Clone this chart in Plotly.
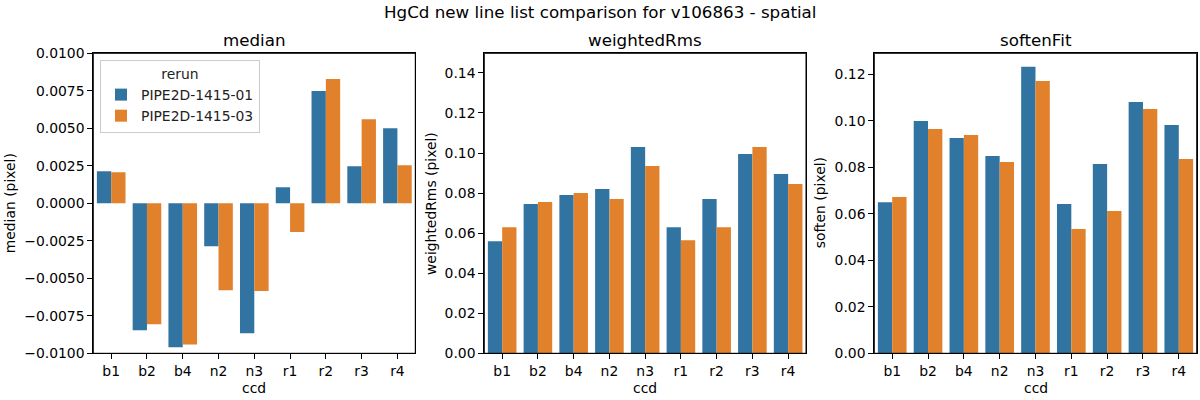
import plotly.graph_objects as go

ccd = ["b1", "b2", "b4", "n2", "n3", "r1", "r2", "r3", "r4"]
reruns = ["PIPE2D-1415-01", "PIPE2D-1415-03"]

median_01 = [0.00214, -0.00846, -0.00959, -0.00287, -0.00866, 0.00107, 0.00748, 0.00247, 0.00501]
median_03 = [0.00207, -0.00806, -0.00942, -0.00579, -0.00585, -0.00191, 0.00828, 0.00561, 0.00254]

wrms_01 = [0.0560, 0.0745, 0.0790, 0.0820, 0.1030, 0.0630, 0.0770, 0.0995, 0.0895]
wrms_03 = [0.0630, 0.0755, 0.0800, 0.0770, 0.0935, 0.0565, 0.0630, 0.1030, 0.0845]

soften_01 = [0.0650, 0.0999, 0.0926, 0.0848, 0.1232, 0.0642, 0.0814, 0.1081, 0.0982]
soften_03 = [0.0672, 0.0965, 0.0939, 0.0823, 0.1171, 0.0534, 0.0612, 0.1051, 0.0835]

colors = ["#3274a1", "#e1812c"]
FONT = "DejaVu Sans"
FS = 13.9
FT = 16.7
W, H = 1200, 400

fig = go.Figure()

panels = [
    (median_01, median_03, "", "median", "median (pixel)"),
    (wrms_01, wrms_03, "2", "weightedRms", "weightedRms (pixel)"),
    (soften_01, soften_03, "3", "softenFit", "soften (pixel)"),
]

for i, (s1, s2, ax, title, ylab) in enumerate(panels):
    for j, (vals, name) in enumerate(zip([s1, s2], reruns)):
        fig.add_trace(go.Bar(
            x=ccd, y=vals, name=name,
            marker=dict(color=colors[j], line=dict(width=0)),
            xaxis="x" + ax, yaxis="y" + ax,
            offsetgroup=str(j),
            showlegend=(i == 0),
        ))

xdoms = [[93.3 / W, 415.3 / W], [484.3 / W, 806 / W], [874.3 / W, 1196.7 / W]]
ydom = [1 - 353.3 / H, 1 - 53.3 / H]

yranges = [[-0.01, 0.01], [0, 0.1498], [0, 0.129]]
ytickvals = [
    [-0.01 + 0.0025 * k for k in range(9)],
    [0.02 * k for k in range(8)],
    [0.02 * k for k in range(7)],
]
yfmt = [".4f", ".2f", ".2f"]

axis_common = dict(
    showline=True, linecolor="black", linewidth=1, mirror=True,
    ticks="outside", ticklen=5, tickwidth=1, tickcolor="black",
    showgrid=False, zeroline=False, automargin=False,
    tickfont=dict(family=FONT, size=FS, color="black"),
)

layout = dict(
    width=W, height=H,
    autosize=False,
    margin=dict(l=0, r=0, t=0, b=0, pad=0, autoexpand=False),
    paper_bgcolor="white", plot_bgcolor="white",
    barmode="group", bargap=0.2, bargroupgap=0,
    font=dict(family=FONT, size=FS, color="black"),
    legend=dict(
        x=100 / W, y=1 - 60 / H, xanchor="left", yanchor="top",
        bgcolor="rgba(255,255,255,0.8)", bordercolor="#cccccc", borderwidth=1,
        font=dict(family=FONT, size=FS, color="#222222"),
        title=dict(text="rerun", side="top center", font=dict(family=FONT, size=FS, color="#222222")),
        tracegroupgap=0,
    ),
)

for i, ax in enumerate(["", "2", "3"]):
    layout["xaxis" + ax] = dict(
        domain=xdoms[i], anchor="y" + ax, range=[-0.5, 8.5],
        type="category", categoryorder="array", categoryarray=ccd,
        **axis_common,
    )
    layout["yaxis" + ax] = dict(
        domain=ydom, anchor="x" + ax, range=yranges[i],
        tickmode="array", tickvals=ytickvals[i], tickformat=yfmt[i],
        **axis_common,
    )

fig.update_layout(**layout)

# frame around each panel (matplotlib-style spines)
for i in range(3):
    fig.add_shape(type="rect", xref="paper", yref="paper",
                  x0=xdoms[i][0], x1=xdoms[i][1], y0=ydom[0], y1=ydom[1],
                  line=dict(color="black", width=1), fillcolor="rgba(0,0,0,0)",
                  layer="above")

annotations = [
    dict(text="HgCd new line list comparison for v106863 - spatial", x=0.5, y=1 - 12 / H,
         xref="paper", yref="paper", showarrow=False, xanchor="center", yanchor="middle",
         font=dict(family=FONT, size=FT, color="black")),
]
ylab_x = [10, 431.7, 820]
for i, (_, _, _, title, ylab) in enumerate(panels):
    cx = (xdoms[i][0] + xdoms[i][1]) / 2
    annotations.append(dict(text=title, x=cx, y=1 - 40 / H, xref="paper", yref="paper",
                            showarrow=False, xanchor="center", yanchor="middle",
                            font=dict(family=FONT, size=FT, color="black")))
    annotations.append(dict(text="ccd", x=cx, y=1 - 388 / H, xref="paper", yref="paper",
                            showarrow=False, xanchor="center", yanchor="middle",
                            font=dict(family=FONT, size=FS, color="black")))
    annotations.append(dict(text=ylab, x=ylab_x[i] / W, y=(ydom[0] + ydom[1]) / 2,
                            xref="paper", yref="paper", textangle=-90,
                            showarrow=False, xanchor="center", yanchor="middle",
                            font=dict(family=FONT, size=FS, color="black")))
fig.update_layout(annotations=annotations)

fig.write_html(
    "out.html",
    config={"displayModeBar": False},
    post_script="document.documentElement.style.margin='0';document.body.style.margin='0';document.body.style.overflow='hidden';",
)
